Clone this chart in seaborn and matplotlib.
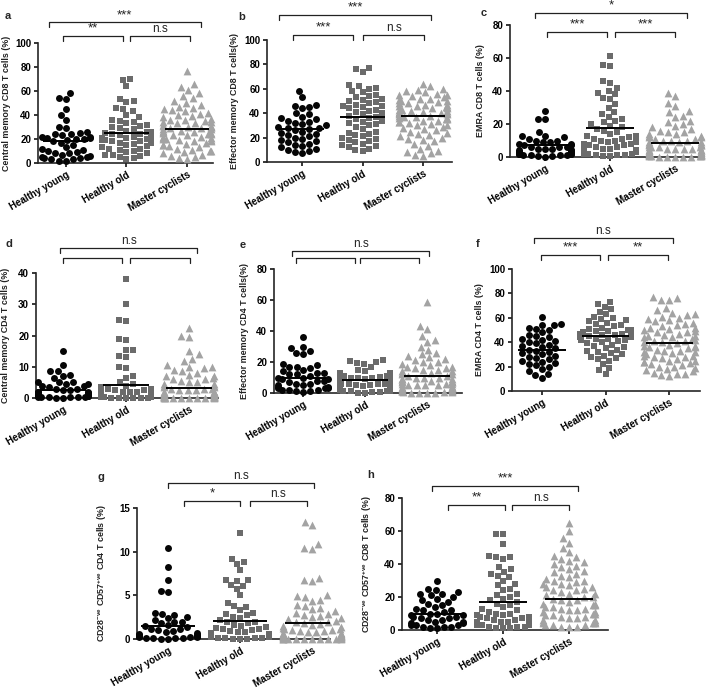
import numpy as np
import pandas as pd
import matplotlib
matplotlib.use("Agg")
import matplotlib.pyplot as plt
import matplotlib.transforms as mtransforms
import seaborn as sns

# --- Gruppen / Stil ---
groups = ["Healthy young", "Healthy old", "Master cyclists"]
markers = ["o", "s", "^"]
colors = ["#050505", "#6b6b6b", "#a3a3a3"]

# --- a: Central memory CD8 ---
a_young = [58, 54, 53, 45, 40, 36, 30, 29, 26, 25, 24, 24, 23, 22, 22, 21, 21, 20, 20, 19,
           18, 17, 15, 13, 12, 11, 10, 9, 8, 8, 7, 6, 5, 5, 4, 4, 3, 3, 2, 2]
a_old = [70, 69, 64, 53, 52, 51, 46, 45, 43, 40, 38, 36, 35, 34, 33, 32, 31, 30, 29, 28,
         27, 26, 25, 24, 24, 23, 22, 21, 20, 20, 19, 18, 18, 17, 16, 15, 14, 13, 12, 12,
         11, 10, 9, 8, 7, 7, 6, 5, 4, 3, 22, 19, 26, 21, 17]
a_cyc = [77, 66, 63, 61, 58, 56, 54, 52, 50, 48, 47, 46, 45, 44, 43, 42, 41, 40, 39, 38,
         37, 36, 35, 34, 34, 33, 32, 31, 30, 30, 29, 28, 28, 27, 26, 25, 25, 24, 23, 22,
         22, 21, 20, 20, 19, 18, 17, 16, 15, 15, 14, 13, 12, 11, 10, 10, 9, 8, 7, 6,
         5, 4, 3, 30, 27, 24, 21, 18, 33, 36, 26, 23, 19, 29, 31]
a_means = [18.5, 25, 28.5]

# --- b: Effector memory CD8 ---
b_young = [58, 53, 47, 46, 45, 44, 40, 39, 37, 36, 35, 34, 33, 32, 31, 30, 29, 28, 28, 27,
           26, 25, 24, 23, 22, 21, 20, 19, 18, 17, 16, 15, 14, 13, 12, 11, 10, 9, 8, 7]
b_old = [77, 76, 74, 63, 62, 61, 60, 58, 57, 55, 54, 53, 52, 51, 50, 49, 48, 47, 46, 45,
         44, 43, 42, 41, 40, 39, 38, 37, 36, 35, 34, 33, 32, 31, 30, 29, 27, 25, 24, 23,
         22, 21, 20, 19, 18, 17, 16, 15, 14, 13, 12, 11, 10, 9, 46]
b_cyc = [64, 62, 60, 59, 58, 57, 56, 55, 54, 53, 52, 51, 50, 50, 49, 48, 47, 46, 45, 45,
         44, 43, 42, 42, 41, 40, 40, 39, 38, 37, 37, 36, 35, 35, 34, 33, 32, 31, 30, 29,
         28, 27, 26, 25, 24, 23, 22, 21, 20, 19, 18, 17, 15, 13, 11, 9, 8, 7, 6, 5,
         44, 46, 48, 41, 39, 36, 34, 47, 43, 38, 33, 30, 52, 55, 40]
b_means = [27, 37, 38]

# --- c: EMRA CD8 ---
c_young = [28, 23, 23, 15, 13, 13, 12, 11, 10, 10, 9, 9, 8, 8, 7, 7, 6, 6, 6, 5,
           5, 5, 4, 4, 4, 3, 3, 3, 3, 2, 2, 2, 2, 1, 1, 1, 1, 0.5, 0.5, 0.3]
c_old = [61, 56, 55, 46, 45, 42, 40, 39, 38, 36, 35, 13, 32, 11, 30, 9, 27, 26, 24, 23,
         22, 21, 20, 19, 18, 17, 16, 15, 14, 13, 12, 11, 10, 10, 9, 8, 8, 7, 7, 6,
         6, 5, 5, 4, 4, 3, 3, 2, 2, 2, 1, 1, 1, 0.5, 0.5]
c_cyc = [39, 37, 33, 31, 28, 27, 25, 24, 22, 21, 20, 19, 18, 17, 16, 15, 15, 14, 14, 13,
         13, 12, 12, 11, 11, 10, 10, 10, 9, 9, 9, 8, 8, 8, 7, 7, 7, 6, 6, 6,
         6, 5, 5, 5, 5, 4, 4, 4, 4, 3, 3, 3, 3, 3, 2, 2, 2, 2, 2, 2,
         1, 1, 1, 1, 1, 1, 0.5, 0.5, 0.5, 0.5, 0.3, 0.3, 0.3, 0.2, 0.2]
c_means = [7, 17.5, 8.5]

# --- d: Central memory CD4 ---
d_young = [15, 10.5, 8.8, 8.5, 7.5, 7, 6.5, 5, 4.5, 4, 5, 5, 4.5, 4, 3.5, 3, 3, 2.5, 2.5, 2,
           2, 1.8, 1.5, 1.5, 1.2, 1, 1, 0.8, 0.8, 0.6, 0.5, 0.5, 0.4, 0.4, 0.3, 0.3, 0.2, 0.2, 0.1, 0.1]
d_old = [38, 30, 25, 24.5, 19, 18.5, 15.5, 15.5, 13.5, 13, 10, 9.5, 7, 6.5, 5, 4.5, 4, 3.5, 3, 3,
         2.5, 2.5, 2, 2, 2, 1.8, 1.5, 1.5, 1.2, 1.2, 1, 1, 1, 0.8, 0.8, 0.8, 0.6, 0.6, 0.5, 0.5,
         0.5, 0.4, 0.4, 0.3, 0.3, 0.3, 0.2, 0.2, 0.2, 0.1, 0.1, 0.1, 0.1, 0.05, 0.05]
d_cyc = [22.5, 20, 19.5, 15, 14, 12.5, 12, 10.5, 10, 10, 9.5, 9, 8.5, 8, 7.5, 7, 7, 6.5, 6, 6,
         5.5, 5, 5, 4.5, 4.5, 4, 4, 3.5, 3.5, 3, 3, 3, 2.5, 2.5, 2.5, 2, 2, 2, 2, 1.8,
         1.5, 1.5, 1.5, 1.2, 1.2, 1, 1, 1, 1, 0.8, 0.8, 0.8, 0.6, 0.6, 0.6, 0.5, 0.5, 0.5, 0.4, 0.4,
         0.3, 0.3, 0.3, 0.2, 0.2, 0.2, 0.2, 0.1, 0.1, 0.1, 0.1, 0.1, 0.05, 0.05, 0.05]
d_means = [2.5, 4.2, 3.2]

# --- e: Effector memory CD4 ---
e_young = [36, 30, 29, 27, 26, 25, 13, 10, 19, 18, 17, 17, 16, 15, 14, 13, 12, 12, 11, 10,
           9, 9, 8, 8, 7, 6, 6, 5, 5, 4, 4, 3, 3, 3, 2, 2, 2, 1, 1, 0.5]
e_old = [21, 20.5, 20, 19.5, 19, 17, 15, 14, 13, 13, 12.5, 12, 12, 11.5, 11, 11, 10.5, 10, 10, 9.5,
         9, 9, 8.5, 8.5, 8, 8, 7.5, 7, 7, 6.5, 6, 6, 5.5, 5.5, 5, 5, 4.5, 4, 4, 3.5,
         3.5, 3, 3, 2.5, 2.5, 2, 2, 1.5, 1.5, 1, 1, 0.5, 0.5, 0.3, 0.2]
e_cyc = [59, 43, 41, 37, 34, 33, 30, 28, 26, 25, 24, 23, 22, 21, 20, 20, 19, 18, 17, 17,
         16, 16, 15, 15, 14, 14, 13, 13, 12, 12, 11, 11, 10, 10, 10, 9, 9, 9, 8, 8,
         8, 7, 7, 7, 6, 6, 6, 5, 5, 5, 5, 4, 4, 4, 4, 3, 3, 3, 3, 2,
         2, 2, 2, 1.5, 1.5, 1, 1, 1, 0.5, 0.5, 0.5, 0.3, 0.3, 0.2, 0.2]
e_means = [10, 8.5, 11]

# --- f: EMRA CD4 ---
f_young = [61, 55, 54, 54, 52, 51, 50, 48, 46, 45, 44, 43, 42, 41, 40, 39, 38, 37, 36, 35,
           34, 33, 32, 31, 30, 29, 28, 27, 26, 25, 24, 23, 22, 21, 20, 18, 16, 14, 13, 11]
f_old = [73, 71, 69, 67, 65, 63, 61, 60, 59, 58, 57, 56, 55, 54, 53, 52, 51, 50, 50, 49,
         49, 48, 47, 47, 46, 46, 45, 45, 44, 44, 43, 43, 42, 42, 41, 40, 39, 38, 37, 36,
         35, 34, 33, 32, 31, 30, 29, 28, 27, 26, 25, 22, 19, 17, 14]
f_cyc = [77, 76, 75, 75, 68, 66, 64, 63, 62, 61, 60, 59, 58, 57, 56, 55, 54, 53, 52, 51,
         50, 49, 48, 47, 46, 45, 44, 43, 42, 41, 40, 39, 38, 37, 36, 35, 34, 33, 32, 31,
         30, 29, 28, 27, 26, 25, 24, 23, 22, 21, 20, 19, 18, 17, 16, 15, 14, 14, 13, 12,
         44, 40, 36, 32, 28, 24, 20, 48, 52, 37, 33, 29, 25, 41, 45]
f_means = [34, 45, 39]

# --- g: CD28-ve CD57+ve CD4 ---
g_young = [10.4, 8.3, 6.8, 5.5, 5.4, 3.0, 2.9, 2.8, 2.5, 2.4, 2.2, 2.0, 2.0, 1.8, 1.6, 1.5, 1.4, 1.2, 1.1, 1.0,
           0.9, 0.8, 0.7, 0.6, 0.5, 0.5, 0.4, 0.4, 0.3, 0.3, 0.3, 0.2, 0.2, 0.2, 0.1, 0.1, 0.1, 0.1, 0.05, 0.05]
g_old = [12.1, 9.2, 8.8, 8.6, 7.9, 6.8, 6.7, 6.6, 6.2, 6.1, 5.7, 5.0, 4.1, 3.8, 3.7, 3.3, 3.0, 2.9, 2.7, 2.5,
         2.4, 2.2, 2.0, 1.9, 1.8, 1.6, 1.5, 1.4, 1.3, 1.2, 1.1, 1.0, 0.9, 0.8, 0.8, 0.7, 0.6, 0.6, 0.5, 0.5,
         0.4, 0.4, 0.3, 0.3, 0.3, 0.2, 0.2, 0.2, 0.1, 0.1, 0.1, 0.1, 0.05, 0.05, 0.05]
g_cyc = [13.4, 13.0, 10.9, 10.4, 10.3, 7.0, 6.8, 6.6, 5.0, 4.9, 4.8, 4.5, 4.3, 3.9, 3.8, 3.6, 3.4, 3.2, 3.0, 2.9,
         2.8, 2.6, 2.5, 2.4, 2.3, 2.1, 2.0, 1.9, 1.8, 1.7, 1.6, 1.5, 1.4, 1.3, 1.2, 1.1, 1.0, 1.0, 0.9, 0.9,
         0.8, 0.8, 0.7, 0.7, 0.6, 0.6, 0.5, 0.5, 0.5, 0.4, 0.4, 0.4, 0.3, 0.3, 0.3, 0.3, 0.2, 0.2, 0.2, 0.2,
         0.1, 0.1, 0.1, 0.1, 0.1, 0.05, 0.05, 0.05, 0.05, 0.05, 0.02, 0.02, 0.02, 0.02, 0.02]
g_means = [1.5, 2.1, 1.8]

# --- h: CD28-ve CD57+ve CD8 ---
h_young = [30, 25, 24, 23, 22, 22, 21, 20, 19, 18, 17, 16, 15, 14, 13, 12, 12, 11, 10, 10,
           9, 9, 8, 8, 7, 7, 6, 6, 5, 5, 4, 4, 3, 3, 3, 2, 2, 2, 1, 1]
h_old = [58, 58, 52, 45, 44, 44, 43, 38, 37, 35, 34, 33, 32, 30, 28, 27, 25, 24, 22, 21,
         20, 19, 18, 17, 16, 15, 14, 13, 12, 11, 10, 10, 9, 9, 8, 8, 7, 7, 6, 6,
         5, 5, 5, 4, 4, 4, 3, 3, 3, 2, 2, 2, 1, 1, 1]
h_cyc = [65, 60, 56, 53, 50, 47, 45, 44, 43, 42, 41, 40, 39, 38, 37, 36, 35, 34, 33, 32,
         31, 30, 29, 28, 27, 26, 25, 24, 23, 22, 21, 20, 19, 18, 17, 16, 15, 15, 14, 14,
         13, 13, 12, 12, 11, 11, 10, 10, 9, 9, 8, 8, 7, 7, 6, 6, 5, 5, 4, 4,
         4, 3, 3, 3, 2, 2, 2, 20, 22, 18, 16, 24, 26, 28, 30]
h_means = [10, 17, 19]

ylabels = {
    "a": "Central memory CD8 T cells (%)",
    "b": "Effector memory CD8 T cells(%)",
    "c": "EMRA CD8 T cells (%)",
    "d": "Central memory CD4 T cells (%)",
    "e": "Effector memory CD4 T cells(%)",
    "f": "EMRA CD4 T cells (%)",
    "g": r"CD28$^{-ve}$ CD57$^{+ve}$ CD4 T cells (%)",
    "h": r"CD28$^{-ve}$ CD57$^{+ve}$ CD8 T cells (%)",
}
yticks = {
    "a": [0, 20, 40, 60, 80, 100], "b": [0, 20, 40, 60, 80, 100], "c": [0, 20, 40, 60, 80],
    "d": [0, 10, 20, 30, 40], "e": [0, 20, 40, 60, 80], "f": [0, 20, 40, 60, 80, 100],
    "g": [0, 5, 10, 15], "h": [0, 20, 40, 60, 80],
}
sig = {
    "a": ["***", "**", "n.s"], "b": ["***", "***", "n.s"], "c": ["*", "***", "***"],
    "d": ["n.s", "", ""], "e": ["n.s", "", ""], "f": ["n.s", "***", "**"],
    "g": ["n.s", "*", "n.s"], "h": ["***", "**", "n.s"],
}
data = {
    "a": ([a_young, a_old, a_cyc], a_means), "b": ([b_young, b_old, b_cyc], b_means),
    "c": ([c_young, c_old, c_cyc], c_means), "d": ([d_young, d_old, d_cyc], d_means),
    "e": ([e_young, e_old, e_cyc], e_means), "f": ([f_young, f_old, f_cyc], f_means),
    "g": ([g_young, g_old, g_cyc], g_means), "h": ([h_young, h_old, h_cyc], h_means),
}

# --- Layout (Pixel: links, oben, rechts, unten), xlim, Klammern, Beschriftungen ---
W, H = 709, 688
layout = {
    "a": dict(rect=(38, 43, 213, 163), xlim=(-0.46, 2.43), lab=(5, 16), ylx=-0.155,
              br=[(-0.28, 2.23, 1.172), (-0.05, 0.94, 1.056), (1.06, 2.05, 1.056)]),
    "b": dict(rect=(267, 40, 452, 162), xlim=(-0.58, 2.48), lab=(238, 17), ylx=-0.151,
              br=[(-0.38, 2.13, 1.205), (-0.15, 0.84, 1.041), (1.01, 2.02, 1.041)]),
    "c": dict(rect=(510, 25, 703, 157), xlim=(-0.54, 2.43), lab=(481, 13), ylx=-0.13,
              br=[(-0.15, 2.18, 1.09), (0.03, 0.95, 0.947), (1.08, 2.0, 0.947)]),
    "d": dict(rect=(36, 273, 218, 398), xlim=(-0.43, 2.46), lab=(5, 244), ylx=-0.145,
              br=[(-0.05, 2.13, 1.2), (0.0, 0.94, 1.12), (1.06, 2.02, 1.12)]),
    "e": dict(rect=(274, 269, 462, 393), xlim=(-0.47, 2.56), lab=(240, 245), ylx=-0.133,
              br=[(-0.18, 2.03, 1.145), (-0.11, 0.84, 1.089), (0.92, 1.87, 1.089)]),
    "f": dict(rect=(512, 269, 700, 391), xlim=(-0.47, 2.48), lab=(476, 244), ylx=-0.149,
              br=[(-0.13, 2.05, 1.254), (-0.02, 0.91, 1.115), (1.04, 1.98, 1.115)]),
    "g": dict(rect=(137, 508, 330, 639), xlim=(-0.43, 2.25), lab=(98, 477), ylx=-0.145,
              br=[(0.0, 2.03, 1.191), (0.22, 1.0, 1.053), (1.14, 1.93, 1.053)]),
    "h": dict(rect=(402, 498, 608, 630), xlim=(-0.53, 2.59), lab=(367, 475), ylx=-0.136,
              br=[(-0.08, 2.14, 1.091), (0.17, 1.03, 0.947), (1.14, 2.0, 0.947)]),
}

sns.set_style("ticks")
plt.rcParams["font.family"] = ["Liberation Sans", "DejaVu Sans"]
plt.rcParams["mathtext.fontset"] = "custom"
plt.rcParams["mathtext.rm"] = "Liberation Sans:bold"
plt.rcParams["mathtext.bf"] = "Liberation Sans:bold"
plt.rcParams["mathtext.default"] = "bf"

fig = plt.figure(figsize=(W / 100, H / 100), dpi=100)

for key, (vals, means) in data.items():
    lay = layout[key]
    l, t, r, b = lay["rect"]
    ax = fig.add_axes([l / W, 1 - b / H, (r - l) / W, (b - t) / H])

    df = pd.DataFrame({
        "group": np.repeat(groups, [len(v) for v in vals]),
        "value": np.concatenate([np.asarray(v, float) for v in vals]),
    })
    for g, m, c in zip(groups, markers, colors):
        sns.swarmplot(data=df[df["group"] == g], x="group", y="value", order=groups,
                      marker=m, color=c, size=5.0 if m != "^" else 5.6, linewidth=0,
                      ax=ax, clip_on=False, warn_thresh=1, zorder=3)

    # Mittelwert-Linien
    xs = np.arange(len(groups))
    ax.hlines(means, xs - 0.37, xs + 0.37, color="black", lw=1.4, zorder=5)

    yt = yticks[key]
    ax.set_ylim(0, yt[-1])
    ax.set_yticks(yt)
    ax.set_xlim(*lay["xlim"])
    ax.set_xticks(xs)
    ax.set_xticklabels(groups, rotation=30, ha="right", rotation_mode="anchor",
                       fontsize=7, fontweight="bold")
    for lbl in ax.get_yticklabels():
        lbl.set_fontsize(7)
        lbl.set_fontweight("bold")
    ax.set_xlabel("")
    ax.set_ylabel(ylabels[key], fontsize=6.4, fontweight="bold", color="#222222")
    ax.yaxis.set_label_coords(lay["ylx"], 0.5)
    ax.tick_params(axis="both", length=3, width=1.1, pad=2, colors="black")
    sns.despine(ax=ax)
    for s in ("left", "bottom"):
        ax.spines[s].set_linewidth(1.2)

    # Signifikanz-Klammern
    trans = mtransforms.blended_transform_factory(ax.transData, ax.transAxes)
    hpx = b - t
    tick = 5.0 / hpx
    for (x1, x2, yy), txt in zip(lay["br"], sig[key]):
        ax.plot([x1, x1, x2, x2], [yy - tick, yy, yy, yy - tick], color="#222222",
                lw=0.9, transform=trans, clip_on=False)
        if txt:
            ax.annotate(txt, xy=((x1 + x2) / 2, yy), xycoords=trans, xytext=(0, 1),
                        textcoords="offset points", ha="center", va="bottom",
                        fontsize=9.5 if "*" in txt else 8.5, color="#222222")

    fig.text(lay["lab"][0] / W, 1 - lay["lab"][1] / H, key, fontsize=8,
             fontweight="bold", ha="left", va="center")

fig.savefig("out.png", dpi=100)
